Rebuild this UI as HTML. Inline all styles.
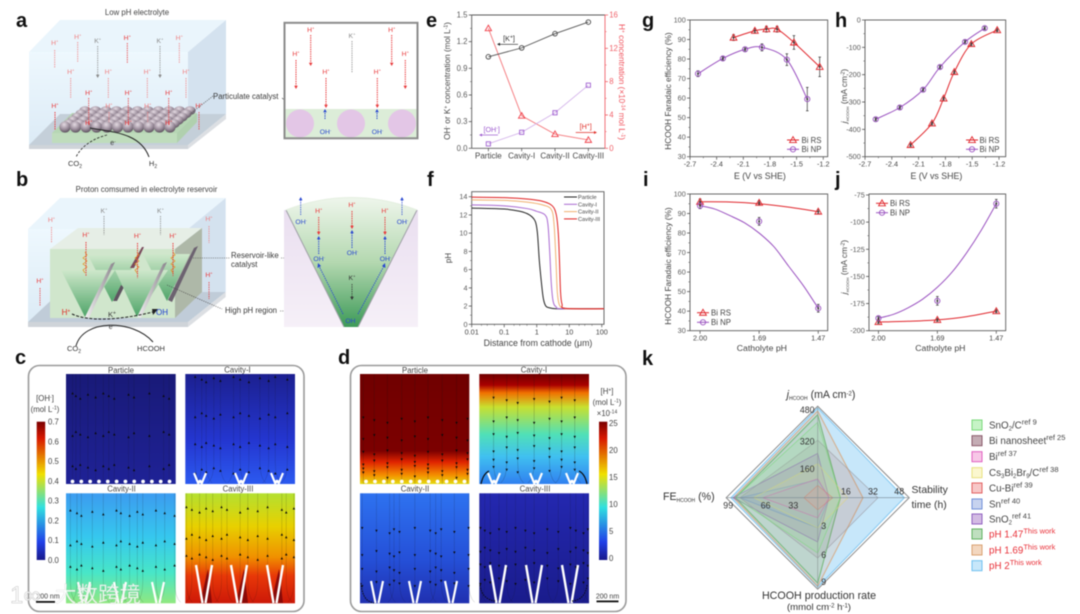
<!DOCTYPE html>
<html lang="en">
<head>
<meta charset="utf-8">
<title>Reservoir-like catalyst figure</title>
<style>
html,body{margin:0;padding:0;background:#fff;width:1080px;height:614px;overflow:hidden}
svg{display:block;filter:blur(0.4px)}
text{font-family:"Liberation Sans","Noto Sans CJK SC",sans-serif;fill:#3a3a3a}
.letter{font-weight:700;font-size:20px;fill:#111}
.cap{font-size:7.8px;fill:#444}
.map-title{font-size:7.8px;fill:#444;text-anchor:middle}
.cb{font-size:7.8px;fill:#444}
</style>
</head>
<body>
<svg id="fig" xmlns="http://www.w3.org/2000/svg" width="1080" height="614" viewBox="0 0 1080 614">
<defs>
<linearGradient id="jetC" x1="0" y1="0" x2="0" y2="1"><stop offset="0" stop-color="#7a0000"/><stop offset=".12" stop-color="#d81800"/><stop offset=".38" stop-color="#f0e000"/><stop offset=".62" stop-color="#30e0e0"/><stop offset=".87" stop-color="#2040e8"/><stop offset="1" stop-color="#18188a"/></linearGradient>
<linearGradient id="cP" x1="0" y1="0" x2="0" y2="1"><stop offset="0" stop-color="#191a78"/><stop offset="1" stop-color="#1f2296"/></linearGradient>
<linearGradient id="cI" x1="0" y1="0" x2="0" y2="1"><stop offset="0" stop-color="#1c2090"/><stop offset=".6" stop-color="#2436d0"/><stop offset="1" stop-color="#2c5af0"/></linearGradient>
<linearGradient id="cII" x1="0" y1="0" x2="0" y2="1"><stop offset="0" stop-color="#3c9cf0"/><stop offset=".4" stop-color="#36c8ee"/><stop offset=".72" stop-color="#48e6c8"/><stop offset="1" stop-color="#90e880"/></linearGradient>
<linearGradient id="cIII" x1="0" y1="0" x2="0" y2="1"><stop offset="0" stop-color="#b4e030"/><stop offset=".3" stop-color="#e8d000"/><stop offset=".58" stop-color="#f09000"/><stop offset=".75" stop-color="#e83808"/><stop offset="1" stop-color="#cc1808"/></linearGradient>
<linearGradient id="dP" x1="0" y1="0" x2="0" y2="1"><stop offset="0" stop-color="#700000"/><stop offset=".7" stop-color="#7c0000"/><stop offset=".8" stop-color="#e02400"/><stop offset=".92" stop-color="#f49000"/><stop offset="1" stop-color="#e4dc10"/></linearGradient>
<linearGradient id="dI" x1="0" y1="0" x2="0" y2="1"><stop offset="0" stop-color="#700000"/><stop offset=".1" stop-color="#a80000"/><stop offset=".17" stop-color="#f07000"/><stop offset=".3" stop-color="#c8e030"/><stop offset=".55" stop-color="#50e0b8"/><stop offset=".75" stop-color="#40c0f0"/><stop offset="1" stop-color="#3080f0"/></linearGradient>
<linearGradient id="dII" x1="0" y1="0" x2="0" y2="1"><stop offset="0" stop-color="#2e72f0"/><stop offset=".6" stop-color="#2550d8"/><stop offset="1" stop-color="#2030b0"/></linearGradient>
<linearGradient id="dIII" x1="0" y1="0" x2="0" y2="1"><stop offset="0" stop-color="#2428b0"/><stop offset="1" stop-color="#1a1c8c"/></linearGradient>
<linearGradient id="wedge" x1="0" y1="0" x2="0" y2="1"><stop offset="0" stop-color="#cfe8cb"/><stop offset="1" stop-color="#4ea468"/></linearGradient>
<linearGradient id="plate" x1="0" y1="0" x2="1" y2="0"><stop offset="0" stop-color="#f2f2f2"/><stop offset="1" stop-color="#8a838c"/></linearGradient>
<linearGradient id="cone" x1="0" y1="0" x2="0" y2="1"><stop offset="0" stop-color="#eff6ec"/><stop offset=".5" stop-color="#b4d8b0"/><stop offset="1" stop-color="#3d9a58"/></linearGradient>
<linearGradient id="boxFront" x1="0" y1="0" x2="0" y2="1"><stop offset="0" stop-color="#eef8fe"/><stop offset="1" stop-color="#dcebf6"/></linearGradient>
<linearGradient id="sidePink" x1="0" y1="0" x2="0" y2="1"><stop offset="0" stop-color="#eadff0"/><stop offset="1" stop-color="#f6f0f8"/></linearGradient>
<radialGradient id="ball" cx=".42" cy=".28" r=".8"><stop offset="0" stop-color="#e4dae2"/><stop offset=".55" stop-color="#9a8c9a"/><stop offset="1" stop-color="#4e4450"/></radialGradient>
</defs>

<!-- panel letters -->
<text class="letter" x="16" y="27">a</text>
<text class="letter" x="16" y="186">b</text>
<text class="letter" x="15" y="364">c</text>
<text class="letter" x="338" y="364">d</text>
<text class="letter" x="426" y="27">e</text>
<text class="letter" x="427" y="186">f</text>
<text class="letter" x="642" y="27">g</text>
<text class="letter" x="835" y="27">h</text>
<text class="letter" x="643" y="186">i</text>
<text class="letter" x="835" y="186">j</text>
<text class="letter" x="642" y="365">k</text>

<!-- panel a box -->
<g id="schemA">
<text class="cap" x="137" y="15" text-anchor="middle">Low pH electrolyte</text>
<polygon points="29,52 60,20 226,20 188,52" fill="#eaf5fc"/>
<rect x="29" y="52" width="159" height="93" fill="url(#boxFront)"/>
<polygon points="188,52 226,20 226,114 188,145" fill="#d4e2ef"/>
<polygon points="29,145 60,114 226,114 188,145" fill="#c4cfd9"/>
<polygon points="29,145 188,145 188,149 29,149" fill="#cfd4d9"/>
<polygon points="188,145 226,114 226,119 188,149" fill="#dcdfe3"/>
<polygon points="52,133 72,113 197,113 177,133" fill="#b6d6b4"/>
<rect x="52" y="133" width="125" height="10" fill="#bfdcbc"/>
<polygon points="177,133 197,113 197,122 177,143" fill="#b0d0ae"/>
<g id="spheres"></g>
<path d="M90,128 C110,132 140,132 149,157" fill="none" stroke="#222" stroke-width="1"/>
<path d="M107,135 C95,138 82,145 76,157" fill="none" stroke="#222" stroke-width=".8" stroke-dasharray="2.5 1.5"/>
<text x="113" y="145" font-size="7" text-anchor="middle">e<tspan dy="-2" font-size="4.5">-</tspan></text>
<text x="75" y="166" font-size="7.5" text-anchor="middle">CO<tspan dy="2" font-size="5">2</tspan></text>
<text x="153" y="166" font-size="7.5" text-anchor="middle">H<tspan dy="2" font-size="5">2</tspan></text>
<text x="213" y="99" font-size="7.8" fill="#444">Particulate catalyst</text>
<line x1="213" y1="96" x2="190" y2="114" stroke="#444" stroke-width=".6" stroke-dasharray="1.2 1"/>
<line x1="282" y1="98" x2="297" y2="110" stroke="#444" stroke-width=".6"/>
</g>

<!-- panel a zoom -->
<g>
<rect x="285" y="23" width="132" height="115" fill="#fff"/>
<rect x="285" y="109" width="132" height="29" fill="#dcedd8"/>
<circle cx="300" cy="123.5" r="14" fill="#e3c6e6"/>
<circle cx="351" cy="123.5" r="14" fill="#e3c6e6"/>
<circle cx="402" cy="123.5" r="14" fill="#e3c6e6"/>
<rect x="284.5" y="22.8" width="133" height="115.5" fill="none" stroke="#8b8b8b" stroke-width="2"/>
</g>

<!-- panel b box -->
<g id="schemB">
<text class="cap" x="146.500" y="192" text-anchor="middle">Proton comsumed in electrolyte reservoir</text>
<polygon points="28,229 60,198 225.700,198 188,229" fill="#eaf5fc"/>
<rect x="28" y="229" width="160" height="93" fill="url(#boxFront)"/>
<polygon points="188,229 225.700,198 225.700,292 188,322" fill="#d4e2ef"/>
<polygon points="28,322 60,292 225.700,292 188,322" fill="#c0ccd8"/>
<polygon points="28,322 188,322 188,327 28,327" fill="#cfd4d9"/>
<polygon points="188,322 225.700,292 225.700,297 188,327" fill="#dcdfe3"/>
<polygon points="50,249 78,228 202,228 175,249" fill="#e6eee6"/>
<rect x="50" y="249" width="125" height="69" fill="#d0e6cc"/>
<polygon points="175,249 202,228 202,292 175,318" fill="#aeb8a8"/>
<polygon points="88,255 140,255 112,302" fill="url(#wedge)"/>
<polygon points="143,254 190,254 167,301" fill="url(#wedge)"/>
<polygon points="113,301 121,285 124,287 117,301" fill="#5e5460"/>
<polygon points="130,268 142,247 144,247 134,268" fill="#7a4a5c"/>
<polygon points="61,270 115,270 85,317" fill="url(#wedge)"/>
<polygon points="115,270 168,270 137,317" fill="url(#wedge)"/>
<polygon points="85,317 111,264 115,262 89,318" fill="url(#plate)"/>
<polygon points="137,317 163,264 167,262 141,318" fill="url(#plate)"/>
<polygon points="168,300 194,248 198,246 172,302" fill="#6c6270"/>
<path d="M76,346 C83,319 133,319 153,342" fill="none" stroke="#222" stroke-width="1"/>
<path d="M72,314 C90,322 120,320 153,312" fill="none" stroke="#222" stroke-width="1" stroke-dasharray="3 1.500"/>
<polygon points="158,309 152,309 153,315" fill="#222"/>
<text x="66" y="315" font-size="8" text-anchor="middle" style="fill:#e0302a">H<tspan dy="-2.500" font-size="5">+</tspan></text>
<text x="162" y="315" font-size="8" style="fill:#2040d0" text-anchor="middle">OH</text>
<text x="112" y="317" font-size="7.500" text-anchor="middle">K<tspan dy="-2.500" font-size="5">+</tspan></text>
<text x="111.500" y="329" font-size="7" text-anchor="middle">e<tspan dy="-2" font-size="4.500">-</tspan></text>
<text x="74" y="351" font-size="7.500" text-anchor="middle">CO<tspan dy="2" font-size="5">2</tspan></text>
<text x="151" y="351" font-size="7.500" text-anchor="middle">HCOOH</text>
<path d="M85,252 l2,3 l-4,3 l4,3 l-4,3 l4,3 l-4,3 l2,3" fill="none" stroke="#e09020" stroke-width=".7"/>
<path d="M137,252 l2,3 l-4,3 l4,3 l-4,3 l4,3 l-4,3 l2,3" fill="none" stroke="#e09020" stroke-width=".7"/>
<path d="M173,252 l2,3 l-4,3 l4,3 l-4,3 l4,3 l-4,3 l2,3" fill="none" stroke="#e09020" stroke-width=".7"/>
<line x1="193" y1="258" x2="230" y2="258" stroke="#444" stroke-width=".6" stroke-dasharray="1.200 1"/>
<line x1="281" y1="258" x2="310" y2="258" stroke="#444" stroke-width=".6" stroke-dasharray="1.200 1"/>
<text x="231" y="258" font-size="7.800" fill="#444">Reservoir-like</text>
<text x="231" y="267" font-size="7.800" fill="#444">catalyst</text>
<line x1="167" y1="285" x2="222" y2="309" stroke="#444" stroke-width=".6" stroke-dasharray="1.200 1"/>
<text x="225" y="313" font-size="7.800" fill="#444">High pH region</text>
<line x1="280" y1="311" x2="343" y2="311" stroke="#444" stroke-width=".6" stroke-dasharray="1.200 1"/>
</g>

<!-- panel b zoom -->
<g>
<rect x="284" y="210" width="134" height="117" fill="url(#sidePink)"/>
<path d="M286,210 Q351,185 417,210 L358,327 L344,327 Z" fill="url(#cone)"/>
<line x1="286" y1="210" x2="344" y2="327" stroke="#a0a0a8" stroke-width="1"/>
<line x1="417" y1="210" x2="358" y2="327" stroke="#a0a0a8" stroke-width="1"/>
<path d="M286,210 Q351,185 417,210" fill="none" stroke="#e4efe0" stroke-width="1"/>
</g>
<g id="ionArrows"></g>

<!-- panel c -->
<g>
<rect x="28.500" y="365.500" width="275.500" height="246" rx="11" fill="#fff" stroke="#9a9a9a" stroke-width="1.600"/>
<rect x="66" y="374" width="109.700" height="110" fill="url(#cP)"/>
<rect x="185.300" y="374" width="109.700" height="110" fill="url(#cI)"/>
<rect x="66" y="493.300" width="109.700" height="110" fill="url(#cII)"/>
<rect x="185.300" y="493.300" width="109.700" height="110" fill="url(#cIII)"/>
<polygon points="200,603 208,569 212,603" fill="#8a0a08"/>
<polygon points="236,603 244,569 248,603" fill="#8a0a08"/>
<polygon points="271,603 279,569 283,603" fill="#8a0a08"/>
<text class="map-title" x="121" y="373">Particle</text>
<text class="map-title" x="237.500" y="372.500">Cavity-I</text>
<text class="map-title" x="121.500" y="491.500">Cavity-II</text>
<text class="map-title" x="238" y="491.500">Cavity-III</text>
<text class="cb" x="45" y="401" text-anchor="middle">[OH<tspan dy="-2.500" font-size="5">-</tspan><tspan dy="2.500">]</tspan></text>
<text class="cb" x="45" y="412" text-anchor="middle">(mol L<tspan dy="-2.500" font-size="5">-1</tspan><tspan dy="2.500">)</tspan></text>
<rect x="36.700" y="421.700" width="8.500" height="138.300" fill="url(#jetC)"/>
<g id="cbC"></g>
<rect x="36" y="601" width="19" height="1.800" fill="#111"/>
<text x="48" y="598.500" font-size="7" text-anchor="middle">200 nm</text>
</g>

<!-- panel d -->
<g>
<rect x="350.500" y="365.500" width="275.500" height="246" rx="11" fill="#fff" stroke="#9a9a9a" stroke-width="1.600"/>
<rect x="360" y="374" width="109.300" height="110" fill="url(#dP)"/>
<rect x="479.300" y="374" width="109.700" height="110" fill="url(#dI)"/>
<rect x="360" y="493.300" width="109.300" height="110" fill="url(#dII)"/>
<rect x="479.300" y="493.300" width="109.700" height="110" fill="url(#dIII)"/>
<text class="map-title" x="415" y="373">Particle</text>
<text class="map-title" x="534" y="372.500">Cavity-I</text>
<text class="map-title" x="415" y="491.500">Cavity-II</text>
<text class="map-title" x="535" y="491.500">Cavity-III</text>
<text class="cb" x="607" y="394" text-anchor="middle">[H<tspan dy="-2.500" font-size="5">+</tspan><tspan dy="2.500">]</tspan></text>
<text class="cb" x="607" y="405" text-anchor="middle">(mol L<tspan dy="-2.500" font-size="5">-1</tspan><tspan dy="2.500">)</tspan></text>
<text class="cb" x="607" y="416" text-anchor="middle">×10<tspan dy="-2.500" font-size="5">-14</tspan></text>
<rect x="599" y="421.700" width="8.300" height="138.300" fill="url(#jetC)"/>
<g id="cbD"></g>
<rect x="596.500" y="600.500" width="22" height="1.800" fill="#111"/>
<text x="607.500" y="598.500" font-size="7" text-anchor="middle">200 nm</text>
</g>
<g id="maps"></g>
<g id="charts"></g>
<g id="radar"></g>
<text x="10" y="603" font-size="24" style="fill:#ffffff;fill-opacity:.85;stroke:#a8a8a8;stroke-width:.5;stroke-opacity:.7">1∞</text>
<text x="55" y="602" font-size="21.500" style="fill:#ffffff;fill-opacity:.85;stroke:#a8a8a8;stroke-width:.3;stroke-opacity:.5;font-family:'Liberation Sans','Noto Sans CJK SC',sans-serif">大数跨境</text>
</svg>

<script>
/* ---- chart data ---- */
const eCategories = ['Particle','Cavity-I','Cavity-II','Cavity-III'];
const eK = [1.03,1.13,1.29,1.42];
const eOH = [0.05,0.18,0.40,0.71];
const eH = [14.4,3.9,1.7,1.0];
const eLeftTicks = [0,0.3,0.6,0.9,1.2,1.5];
const eRightTicks = [0,4,8,12,16];

const fXTicks = [0.01,0.1,1,10,100];
const fYTicks = [0,2,4,6,8,10,12,14];
const fParticleX = [0.01,0.1,0.3,0.6,0.9,1.05,1.2,1.4,1.6,1.9,2.5,4,10,130];
const fParticleY = [12.75,12.65,12.4,12,11.3,10,7,4.5,2.8,2,1.8,1.7,1.7,1.7];
const fCavity1X = [0.01,0.1,0.5,1,1.8,2.2,2.5,2.8,3.2,4,6,130];
const fCavity1Y = [13.1,13,12.7,12.4,12,11,8,4.5,2.5,1.9,1.7,1.7];
const fCavity2X = [0.01,0.1,0.5,1.5,2.8,3.4,3.9,4.3,5,7,10,130];
const fCavity2Y = [13.65,13.6,13.4,13.1,12.6,11,7,3.5,2.1,1.75,1.7,1.7];
const fCavity3X = [0.01,0.1,0.5,1.5,3,4,4.6,5,5.4,6,8,130];
const fCavity3Y = [13.95,13.9,13.75,13.5,13,12,10,7,3.5,2.2,1.75,1.7];
const fLegend = ['Particle','Cavity-I','Cavity-II','Cavity-III'];

const gRsE = [-2.21,-1.97,-1.84,-1.72,-1.53,-1.24];
const gRsFE = [91,94.5,95.3,95.3,88.5,76];
const gRsErr = [1.5,1,1.5,1.5,3.5,5];
const gNpE = [-2.61,-2.33,-2.08,-1.89,-1.61,-1.38];
const gNpFE = [72.5,80.3,85,86,79.7,59.5];
const gNpErr = [1.5,0.8,0.8,1.8,3,6];
const gXTicks = [-2.7,-2.4,-2.1,-1.8,-1.5,-1.2];
const gYTicks = [30,40,50,60,70,80,90,100];

const hRsE = [-2.19,-1.95,-1.82,-1.7,-1.51,-1.22];
const hRsJ = [-457,-378,-287,-190,-88,-37];
const hNpE = [-2.58,-2.31,-2.05,-1.86,-1.58,-1.36];
const hNpJ = [-363,-320,-255,-172,-80,-30];
const hYTicks = [0,-100,-200,-300,-400,-500];

const pHCategories = ['2.00','1.69','1.47'];
const iRs = [96,95.5,91];
const iRsErr = [1.5,1,1];
const iNp = [94,86,41.5];
const iNpErr = [1.5,2,2];
const iRsFitAt = [0,0.5,1,1.5,2];
const iRsFit = [96,95.9,95,93.3,91];
const iNpFitAt = [0,0.25,0.5,0.75,1,1.25,1.5,1.75,2];
const iNpFit = [94,92.3,89,85.3,80,73,63,53,41.5];
const iYTicks = [30,40,50,60,70,80,90,100];

const jRs = [-192,-190,-182];
const jNp = [-188.5,-172.5,-83];
const jNpErr = [1.5,4,4];
const jRsFitAt = [0,0.5,1,1.5,2];
const jRsFit = [-192,-191.3,-190,-187,-182];
const jNpFitAt = [0,0.25,0.5,0.75,1,1.25,1.5,1.75,2];
const jNpFit = [-188.5,-185,-179,-171,-160,-146,-128,-107,-83];
const jYTicks = [-75,-100,-125,-150,-175,-200];

const radarNames = ['SnO2/C','Bi nanosheet','Bi','Cs3Bi2Br9/C','Cu-Bi','Sn','SnO2','pH 1.47','pH 1.69','pH 2'];
const radarJ = [400,305,100,180,65,95,235,440,460,476];
const radarStability = [12,32,6,16,8,6,6,12,24,46];
const radarRate = [5.5,6,2,3,1.2,3,4.4,8.5,8.8,8.9];
const radarFE = [90,85,60,70,15,85,93,90,92,95];
const radarJTicks = [160,320,480];
const radarStabilityTicks = [16,32,48];
const radarRateTicks = [3,6,9];
const radarFETicks = [33,66,99];

const ohColorbarTicks = ['0.0','0.1','0.2','0.3','0.4','0.5','0.6','0.7'];
const hColorbarTicks = ['0','5','10','15','20','25'];

/* ---- helpers ---- */
const NS = 'http://www.w3.org/2000/svg';
function el(parent, tag, attrs, name) {
  const node = document.createElementNS(NS, tag);
  for (const k in attrs) node.setAttribute(k, attrs[k]);
  
  
  parent.appendChild(node);
  return node;
}
function txt(parent, x, y, markup, size, anchor, color, name, rot) {
  const a = {x:x, y:y, 'font-size':size, 'text-anchor':anchor||'start', style:'fill:'+(color||'#3a3a3a')};
  if (rot) a.transform = 'rotate('+rot+' '+x+' '+y+')';
  const t = el(parent, 'text', a, name);
  t.innerHTML = markup;
  return t;
}
const sup = (s, f) => '<tspan dy="-2.5" font-size="'+(f||5)+'">'+s+'</tspan><tspan dy="2.5">\u200b</tspan>';
const sub = (s, f) => '<tspan dy="1.8" font-size="'+(f||5)+'">'+s+'</tspan><tspan dy="-1.8">\u200b</tspan>';
const lin = (d0,d1,r0,r1) => v => r0 + (v-d0)/(d1-d0)*(r1-r0);
const logScale = (d0,d1,r0,r1) => v => r0 + (Math.log10(v)-Math.log10(d0))/(Math.log10(d1)-Math.log10(d0))*(r1-r0);
function smooth(pts) {
  let d = 'M'+pts[0][0].toFixed(2)+','+pts[0][1].toFixed(2);
  for (let i=0;i<pts.length-1;i++){
    const p0=pts[Math.max(0,i-1)],p1=pts[i],p2=pts[i+1],p3=pts[Math.min(pts.length-1,i+2)];
    const c1=[p1[0]+(p2[0]-p0[0])/6,p1[1]+(p2[1]-p0[1])/6], c2=[p2[0]-(p3[0]-p1[0])/6,p2[1]-(p3[1]-p1[1])/6];
    d+=' C'+c1[0].toFixed(2)+','+c1[1].toFixed(2)+' '+c2[0].toFixed(2)+','+c2[1].toFixed(2)+' '+p2[0].toFixed(2)+','+p2[1].toFixed(2);
  }
  return d;
}
function poly(pts){return pts.map(p=>p[0].toFixed(2)+','+p[1].toFixed(2)).join(' ');}

const AX = '#5a5a5a';
function frame(g, x0, y0, x1, y1, name, color) {
  el(g,'rect',{x:x0,y:y0,width:x1-x0,height:y1-y0,fill:'none',stroke:color||AX,'stroke-width':.9},name);
}
function yAxis(g, scale, x, ticks, minorStep, dir, color, name, lo, hi, fmt, size) {
  ticks.forEach(v=>{
    const y=scale(v);
    el(g,'line',{x1:x,x2:x-dir*3,y1:y,y2:y,stroke:color||AX,'stroke-width':.8},name+'-tick');
    txt(g,x-dir*4.2,y+2.5,fmt?fmt(v):String(v),size||7.3,dir>0?'end':'start',color||'#444',name+'-tick-label');
  });
  if(minorStep){for(let v=lo+minorStep;v<hi;v+=minorStep){
    const y=scale(v);
    el(g,'line',{x1:x,x2:x-dir*1.6,y1:y,y2:y,stroke:color||AX,'stroke-width':.6},name+'-minor-tick');
  }}
}
function xAxis(g, scale, y, ticks, labels, name, minors, size) {
  ticks.forEach((v,i)=>{
    const x=scale(v);
    el(g,'line',{x1:x,x2:x,y1:y,y2:y+3,stroke:AX,'stroke-width':.8},name+'-tick');
    txt(g,x,y+10,labels[i],size||7.3,'middle','#444',name+'-tick-label');
  });
  (minors||[]).forEach(v=>{
    const x=scale(v);
    el(g,'line',{x1:x,x2:x,y1:y,y2:y+1.6,stroke:AX,'stroke-width':.6},name+'-minor-tick');
  });
}
function triMark(g,x,y,color,name,s){
  s=s||3.4;
  el(g,'polygon',{points:x+','+(y-s)+' '+(x+s)+','+(y+s*.75)+' '+(x-s)+','+(y+s*.75),fill:'none',stroke:color,'stroke-width':.9},name);
}
function cirMark(g,x,y,color,name,r){
  el(g,'circle',{cx:x,cy:y,r:r||2.6,fill:'none',stroke:color,'stroke-width':.9},name);
}
function errBar(g,x,yHi,yLo,name){
  el(g,'line',{x1:x,x2:x,y1:yHi,y2:yLo,stroke:'#333','stroke-width':.7},name);
  el(g,'line',{x1:x-1.3,x2:x+1.3,y1:yHi,y2:yHi,stroke:'#333','stroke-width':.7},name+'-cap');
  el(g,'line',{x1:x-1.3,x2:x+1.3,y1:yLo,y2:yLo,stroke:'#333','stroke-width':.7},name+'-cap');
  el(g,'circle',{cx:x,cy:(yHi+yLo)/2,r:1,fill:'#333'},name+'-center');
}
function legendTwo(g,xLine,yA,yB,xText){
  const RS='#e0262c',NP='#9a52c0';
  el(g,'line',{x1:xLine,x2:xLine+12,y1:yA,y2:yA,stroke:RS,'stroke-width':1},'legend-line-bi-rs');
  triMark(g,xLine+6,yA,RS,'legend-marker-bi-rs');
  txt(g,xText,yA+2.8,'Bi RS',7.8,'start','#444','legend-entry-bi-rs');
  el(g,'line',{x1:xLine,x2:xLine+12,y1:yB,y2:yB,stroke:NP,'stroke-width':1},'legend-line-bi-np');
  cirMark(g,xLine+6,yB,NP,'legend-marker-bi-np');
  txt(g,xText,yB+2.8,'Bi NP',7.8,'start','#444','legend-entry-bi-np');
}
const RS='#e0262c',NP='#9a52c0';
const charts=document.getElementById('charts');

/* ---- panel e ---- */
(function(){
  const g=el(charts,'g',{},'panel-e-chart');
  const X0=471.7,X1=605,Y0=15,Y1=148.3;
  const x=lin(-0.5,3.5,X0,X1), yL=lin(0,1.5,Y1,Y0), yR=lin(0,16,Y1,Y0);
  el(g,'line',{x1:X0,x2:X1,y1:Y0,y2:Y0,stroke:AX,'stroke-width':.9},'e-top-border');
  el(g,'line',{x1:X0,x2:X1,y1:Y1,y2:Y1,stroke:AX,'stroke-width':.9},'e-bottom-axis');
  el(g,'line',{x1:X0,x2:X0,y1:Y0,y2:Y1,stroke:AX,'stroke-width':.9},'e-left-axis');
  el(g,'line',{x1:X1,x2:X1,y1:Y0,y2:Y1,stroke:'#f0626a','stroke-width':.9},'e-right-axis');
  yAxis(g,yL,X0,eLeftTicks,0.15,1,AX,'e-left',0,1.5,v=>v.toFixed(1),7.8);
  yAxis(g,yR,X1,eRightTicks,2,-1,'#f0626a','e-right',0,16,null,7.8);
  xAxis(g,x,Y1,[0,1,2,3],eCategories,'e-x',null,8);
  const pts=a=>a.map((v,i)=>[x(i),v]);
  const hp=pts(eH.map(yR)), op=pts(eOH.map(yL)), kp=pts(eK.map(yL));
  el(g,'polyline',{points:poly(hp),fill:'none',stroke:'#f4787c','stroke-width':.9},'series-h-line');
  el(g,'polyline',{points:poly(op),fill:'none',stroke:'#d4b4ea','stroke-width':.9},'series-oh-line');
  el(g,'polyline',{points:poly(kp),fill:'none',stroke:'#555','stroke-width':.9},'series-k-line');
  hp.forEach(p=>triMark(g,p[0],p[1],'#f0404a','series-h-point',3.2));
  op.forEach(p=>el(g,'rect',{x:p[0]-2.1,y:p[1]-2.1,width:4.2,height:4.2,fill:'none',stroke:'#a060d0','stroke-width':.9},'series-oh-point'));
  kp.forEach(p=>cirMark(g,p[0],p[1],'#444','series-k-point',2.3));
  txt(g,509,41,'[K'+sup('+')+']',7.2,'middle','#333','k-series-label');
  el(g,'line',{x1:518,x2:499,y1:44.3,y2:44.3,stroke:'#222','stroke-width':.7},'k-direction-arrow');
  el(g,'polygon',{points:'497,44.3 500,42.800 500,45.800',fill:'#222'},'k-arrow-head');
  txt(g,491.7,132,'[OH'+sup('-')+']',7.2,'middle','#a060d0','oh-series-label');
  el(g,'line',{x1:498,x2:481,y1:135,y2:135,stroke:'#a060d0','stroke-width':.7},'oh-direction-arrow');
  el(g,'polygon',{points:'479,135 482,133.500 482,136.500',fill:'#a060d0'},'oh-arrow-head');
  txt(g,585.7,129,'[H'+sup('+')+']',7.2,'middle','#e0302a','h-series-label');
  el(g,'line',{x1:575.7,x2:595,y1:132.5,y2:132.5,stroke:'#e0302a','stroke-width':.7},'h-direction-arrow');
  el(g,'polygon',{points:'597,132.500 594,131 594,134',fill:'#e0302a'},'h-arrow-head');
  txt(g,450,81,'OH'+sup('-')+' or K'+sup('+')+' concentration (mol L'+sup('-1')+')',8.2,'middle','#444','e-left-axis-title',-90);
  txt(g,619,82,'H'+sup('+')+' concentration (×10'+sup('-14')+' mol L'+sup('-1')+')',8.2,'middle','#f0505a','e-right-axis-title',90);
})();

/* ---- panel f ---- */
(function(){
  const g=el(charts,'g',{},'panel-f-chart');
  const X0=471.7,X1=604,Y0=191.7,Y1=324.3;
  const x=logScale(0.01,117,X0,X1), y=lin(0,14.55,Y1,Y0);
  frame(g,X0,Y0,X1,Y1,'f-plot-frame');
  yAxis(g,y,X0,fYTicks,1,1,AX,'f-y',0,14);
  xAxis(g,x,Y1,fXTicks,['0.01','0.1','1','10','100'],'f-x');
  [0.02,0.03,0.05,0.2,0.3,0.5,2,3,5,20,30,50].forEach(v=>{
    el(g,'line',{x1:x(v),x2:x(v),y1:Y1,y2:Y1+1.6,stroke:AX,'stroke-width':.5},'f-x-minor-tick');
  });
  const series=[[fParticleX,fParticleY,'#222','particle'],[fCavity1X,fCavity1Y,'#a868d0','cavity-1'],[fCavity2X,fCavity2Y,'#f0b070','cavity-2'],[fCavity3X,fCavity3Y,'#e02020','cavity-3']];
  series.forEach(s=>{
    const pts=s[0].map((v,i)=>[x(Math.min(v,117)),y(s[1][i])]);
    el(g,'path',{d:smooth(pts),fill:'none',stroke:s[2],'stroke-width':1},'f-line-'+s[3]);
  });
  fLegend.forEach((n,i)=>{
    const ly=197+i*7.3;
    el(g,'line',{x1:564,x2:577,y1:ly,y2:ly,stroke:series[i][2],'stroke-width':1},'f-legend-line-'+series[i][3]);
    txt(g,578,ly+2,n,5.6,'start','#444','f-legend-entry-'+series[i][3]);
  });
  txt(g,451,258,'pH',8,'middle','#444','f-y-axis-title',-90);
  txt(g,538,346,'Distance from cathode (μm)',8.8,'middle','#444','f-x-axis-title');
})();

function chartEV(name,X0,X1,d0,d1,yScale,yTicks,minor,lo,hi,rsE,rsV,rsErr,npE,npV,npErr,yTitle,titleX,titleY,lg){
  const g=el(charts,'g',{},name);
  const Y0=20,Y1=156.7;
  const x=lin(d0,d1,X0,X1);
  frame(g,X0,Y0,X1,Y1,name+'-frame');
  yAxis(g,yScale,X0,yTicks,minor,1,AX,name+'-y',lo,hi);
  xAxis(g,x,Y1,gXTicks,gXTicks.map(v=>v.toFixed(1)),name+'-x',[-2.55,-2.25,-1.95,-1.65,-1.35]);
  const rp=rsE.map((e,i)=>[x(e),yScale(rsV[i])]), np=npE.map((e,i)=>[x(e),yScale(npV[i])]);
  el(g,'path',{d:smooth(rp),fill:'none',stroke:RS,'stroke-width':1},name+'-line-bi-rs');
  el(g,'path',{d:smooth(np),fill:'none',stroke:NP,'stroke-width':1},name+'-line-bi-np');
  rp.forEach((p,i)=>{
    const h=rsErr?Math.abs(yScale(rsV[i]+rsErr[i])-yScale(rsV[i])):1.5;
    errBar(g,p[0],p[1]-h,p[1]+h,name+'-error-bi-rs');triMark(g,p[0],p[1],RS,name+'-point-bi-rs');});
  np.forEach((p,i)=>{
    const h=npErr?Math.abs(yScale(npV[i]+npErr[i])-yScale(npV[i])):1.5;
    errBar(g,p[0],p[1]-h,p[1]+h,name+'-error-bi-np');cirMark(g,p[0],p[1],NP,name+'-point-bi-np');});
  legendTwo(g,lg[0],lg[1],lg[2],lg[3]);
  txt(g,(X0+X1)/2+1,179,'E (V vs SHE)',8.8,'middle','#444',name+'-x-axis-title');
  txt(g,titleX,titleY,yTitle,8.3,'middle','#444',name+'-y-axis-title',-90);
}
const jTitle='<tspan font-style="italic">j</tspan>'+sub('HCOOH',4)+' (mA cm'+sup('-2')+')';
chartEV('panel-g-chart',690,827.7,-2.7,-1.15,lin(30,100,156.7,20),gYTicks,5,30,100,gRsE,gRsFE,gRsErr,gNpE,gNpFE,gNpErr,'HCOOH Faradaic efficiency (%)',671,91,[787,140,149.3,801.5]);
chartEV('panel-h-chart',865,1005.7,-2.7,-1.125,lin(-500,0,156.7,20),hYTicks,50,-500,0,hRsE,hRsJ,null,hNpE,hNpJ,null,jTitle,847,96,[966,140,149.3,979.5]);

function chartPH(name,X0,X1,d0,d1,yScale,yTicks,minor,lo,hi,rs,rsE,np,npE,rfa,rf,nfa,nf,yTitle,titleX,titleY,lg){
  const g=el(charts,'g',{},name);
  const Y0=194,Y1=330.7;
  const x=lin(d0,d1,X0,X1);
  frame(g,X0,Y0,X1,Y1,name+'-frame');
  yAxis(g,yScale,X0,yTicks,minor,1,AX,name+'-y',lo,hi);
  xAxis(g,x,Y1,[0,1,2],pHCategories,name+'-x');
  el(g,'path',{d:smooth(rfa.map((a,i)=>[x(a),yScale(rf[i])])),fill:'none',stroke:RS,'stroke-width':1},name+'-fit-bi-rs');
  el(g,'path',{d:smooth(nfa.map((a,i)=>[x(a),yScale(nf[i])])),fill:'none',stroke:NP,'stroke-width':1},name+'-fit-bi-np');
  rs.forEach((v,i)=>{const h=rsE?Math.abs(yScale(v+rsE[i])-yScale(v)):1.5;
    errBar(g,x(i),yScale(v)-h,yScale(v)+h,name+'-error-bi-rs');triMark(g,x(i),yScale(v),RS,name+'-point-bi-rs');});
  np.forEach((v,i)=>{const h=Math.abs(yScale(v+npE[i])-yScale(v));
    errBar(g,x(i),yScale(v)-h,yScale(v)+h,name+'-error-bi-np');cirMark(g,x(i),yScale(v),NP,name+'-point-bi-np');});
  legendTwo(g,lg[0],lg[1],lg[2],lg[3]);
  txt(g,(X0+X1)/2+3,351,'Catholyte pH',8.7,'middle','#444',name+'-x-axis-title');
  txt(g,titleX,titleY,yTitle,8.3,'middle','#444',name+'-y-axis-title',-90);
}
chartPH('panel-i-chart',690,827.7,-0.17,2.16,lin(30,100,330.7,194),iYTicks,5,30,100,iRs,iRsErr,iNp,iNpErr,iRsFitAt,iRsFit,iNpFitAt,iNpFit,'HCOOH Faradaic efficiency (%)',671,266,[697,312.7,322.3,711]);
chartPH('panel-j-chart',869,1005.7,-0.16,2.16,lin(-200,-75,330.7,195),jYTicks,12.5,-200,-75,jRs,null,jNp,jNpErr,jRsFitAt,jRsFit,jNpFitAt,jNpFit,jTitle,847,267,[876,203.3,212.7,890]);

/* ---- radar ---- */
(function(){
  const g=document.getElementById('radar');
  const cx=817.7,cy=497.7,R=90.5;
  const up=lin(0,480,0,R), right=lin(0,48,0,R), down=lin(0,9,0,R), left=lin(0,99,0,R);
  const colors=[['#8de88d','#7ad87a'],['#8a5a6a','#8a5a6a'],['#f090d0','#e060c0'],['#f8f0a0','#e8e080'],['#f09090','#e06060'],['#90a8e0','#7090d8'],['#a878c8','#9060c0'],['#80c080','#60b060'],['#e8b080','#d8a070'],['#8fd0f5','#70c0f0']];
  const alpha=[.18,.1,.12,.16,.3,.3,.22,.2,.2,.5];
  el(g,'polygon',{points:cx+','+(cy-R-1)+' '+(cx+R+1)+','+cy+' '+cx+','+(cy+R+1)+' '+(cx-R-1)+','+cy,fill:'#fff',stroke:'#8a8a8a','stroke-width':1},'radar-outer-frame');
  [9,8,7,6,5,4,3,2,1,0].forEach(i=>{
    const pts=[[cx,cy-up(radarJ[i])],[cx+right(radarStability[i]),cy],[cx,cy+down(radarRate[i])],[cx-left(radarFE[i]),cy]];
    el(g,'polygon',{points:poly(pts),fill:colors[i][0],'fill-opacity':alpha[i],stroke:i===1?'#9a9aa0':colors[i][1],'stroke-width':i>=7?1.1:.7,'stroke-opacity':.75},'radar-series-'+radarNames[i].toLowerCase().replace(/[^a-z0-9]+/g,'-'));
  });
  el(g,'line',{x1:cx-R,x2:cx+R,y1:cy,y2:cy,stroke:'#7a8a96','stroke-width':.7},'radar-horizontal-axis');
  el(g,'line',{x1:cx,x2:cx,y1:cy-R,y2:cy+R,stroke:'#8a9a96','stroke-width':.6},'radar-vertical-axis');
  radarJTicks.forEach(v=>txt(g,cx-10.5,cy-up(v)+(v===480?6:v===320?7:4.5),String(v),8.8,'middle','#333','radar-j-tick'));
  radarStabilityTicks.forEach(v=>txt(g,cx+right(v)+(v===16?-2:v===32?-5:-9),cy-3,String(v),8.8,'middle','#333','radar-stability-tick'));
  radarRateTicks.forEach(v=>txt(g,cx+6,cy+down(v)+(v===9?-3:v===6?0:1),String(v),8.8,'middle','#333','radar-rate-tick'));
  radarFETicks.forEach(v=>txt(g,cx-left(v)+(v===99?1:v===66?8.3:5.8),cy+11,String(v),8.8,'middle','#333','radar-fe-tick'));
  txt(g,821,398,'<tspan font-style="italic">j</tspan>'+sub('HCOOH',5)+' (mA cm'+sup('-2',6)+')',10.6,'middle','#333','radar-j-title');
  txt(g,663,500,'FE'+sub('HCOOH',5)+' (%)',10.6,'start','#333','radar-fe-title');
  txt(g,911.5,493,'Stability',10.4,'start','#333','radar-stability-title-1');
  txt(g,911.5,508,'time (h)',10.4,'start','#333','radar-stability-title-2');
  txt(g,819,599,'HCOOH production rate',10.7,'middle','#333','radar-rate-title-1');
  txt(g,819,610,'(mmol cm'+sup('-2',6)+' h'+sup('-1',6)+')',9.6,'middle','#333','radar-rate-title-2');

  const sup2=(s,c)=>'<tspan dy="-4" font-size="7.5"'+(c?' style="fill:'+c+'"':'')+'>'+s+'</tspan><tspan dy="4">\u200b</tspan>';
  const sub2=s=>'<tspan dy="2" font-size="6">'+s+'</tspan><tspan dy="-2">\u200b</tspan>';
  const rows=[
    'SnO'+sub2('2')+'/C'+sup2('ref 9'),
    'Bi nanosheet'+sup2('ref 25'),
    'Bi'+sup2('ref 37'),
    'Cs'+sub2('3')+'Bi'+sub2('2')+'Br'+sub2('9')+'/C'+sup2('ref 38'),
    'Cu-Bi'+sup2('ref 39'),
    'Sn'+sup2('ref 40'),
    'SnO'+sub2('2')+sup2('ref 41'),
    'pH 1.47'+sup2('This work'),
    'pH 1.69'+sup2('This work'),
    'pH 2'+sup2('This work')
  ];
  const ys=[425,440.7,456.7,472.7,488,504,519,534,550,565.7];
  rows.forEach((m,i)=>{
    el(g,'rect',{x:972,y:ys[i]-5,width:10,height:10,fill:colors[i][0],'fill-opacity':.5,stroke:colors[i][1],'stroke-width':1},'legend-swatch-'+radarNames[i].toLowerCase().replace(/[^a-z0-9]+/g,'-'));
    txt(g,989,ys[i]+3.5,m,9.8,'start',i>=7?'#e83038':'#444','legend-entry-'+radarNames[i].toLowerCase().replace(/[^a-z0-9]+/g,'-'));
  });
})();

/* ---- colorbars ---- */
(function(){
  const c=document.getElementById('cbC'), d=document.getElementById('cbD');
  const yc=lin(0,7,560,421.7), yd=lin(0,25,558,423);
  ohColorbarTicks.forEach((t,i)=>{txt(c,48,yc(i)+3,t,7.8,'start','#444','oh-colorbar-tick');});
  hColorbarTicks.forEach((t,i)=>{txt(d,609,yd(i*5)+3,t,7.8,'start','#444','h-colorbar-tick');});
})();

/* ---- spheres ---- */
(function(){
  const g=document.getElementById('spheres');
  for(let r=0;r<6;r++){
    const dx=(5-r)*4, dy=(5-r)*3.3;
    for(let j=0;j<11;j++){
      el(g,'ellipse',{cx:65+j*10.5+dx,cy:127-dy,rx:5.6,ry:r===5?5.6:4.4,fill:'url(#ball)'},'catalyst-sphere');
    }
  }
})();

/* ---- ion arrows ---- */
(function(){
  const g=document.getElementById('ionArrows');
  const RED='#e8383a',GRAY='#8a8a8a',BLUE='#2a48d0',DK='#333';
  function ion(x,yLabel,y1,y2,col,head,label,w,dash){
    if(label) txt(g,x+(label.length>1?.5:0),yLabel,label+sup(col===BLUE?'-':'+',4),6.8,'middle',col,'ion-label');
    if(y1===y2) return;
    const dir=y2>y1?1:-1;
    el(g,'line',{x1:x,x2:x,y1:y1,y2:head?y2-dir*2:y2,stroke:col,'stroke-width':w||.8,'stroke-dasharray':dash||'1.4 .9'},'ion-path');
    if(head){
      el(g,'polygon',{points:x+','+y2+' '+(x-1.8)+','+(y2-dir*3.2)+' '+(x+1.8)+','+(y2-dir*3.2),fill:col},'ion-arrow-head');
    }
  }
  const LR='#f08082';
  /* panel a */
  ion(54.7,45,50,68,LR,false,'H');ion(77.7,39,42,62,LR,false,'H');ion(97.7,43,46,78,GRAY,true,'K');
  ion(127.3,40,43,63,RED,false,'H');ion(160,43,46,78,GRAY,true,'K');ion(179.3,40,43,63,LR,false,'H');
  ion(70.7,74,78,98,LR,false,'H');ion(108.3,74,78,98,LR,false,'H');ion(147.3,74,78,98,LR,false,'H');ion(186,74,78,98,LR,false,'H');
  ion(88.7,95,98,125,RED,false,'H');ion(128.3,95,98,125,RED,false,'H');ion(168.7,95,98,125,RED,false,'H');
  ion(55,108,112,130,RED,false,'H',1);ion(109,108,112,122,LR,false,'H');ion(147.7,108,112,122,LR,false,'H');ion(199,108,112,130,RED,false,'H');
  ion(88.7,125,125,125,RED,false,'H');ion(128.3,125,125,125,RED,false,'H');ion(168.7,125,125,125,RED,false,'H');
  /* panel a closeup */
  ion(310.7,32,35,66,RED,true,'H',1);ion(391.7,32,35,66,RED,true,'H',1);ion(352,38,41,73,GRAY,false,'K');
  ion(296,56,60,89,RED,true,'H',1);ion(405.3,56,60,89,RED,true,'H',1);ion(326,74,78,108,RED,true,'H',1);ion(377.3,74,78,108,RED,true,'H',1);
  ion(325,134,119,109,BLUE,true,'OH',1);ion(377,134,119,109,BLUE,true,'OH',1);
  /* panel b */
  ion(51.5,222,227,243,LR,false,'H');ion(104,213,216,235,GRAY,false,'K');ion(160.5,213,216,235,GRAY,false,'K');
  ion(209,221,226,243,LR,false,'H');ion(40,283,288,306,RED,false,'H');ion(209,277,282,299,RED,false,'H');
  ion(86,237,242,276,RED,false,'H',1);ion(137.5,238,243,278,RED,false,'H',1);ion(173,238,243,276,RED,false,'H',1);
  /* panel b closeup */
  ion(300.7,224,215,197,BLUE,true,'OH');ion(402,224,215,197,BLUE,true,'OH');
  ion(318.7,213,217,235,RED,true,'H',1);ion(352,207,211,229,RED,true,'H',1);ion(385,213,217,235,RED,true,'H',1);
  ion(318.7,261,254,236,BLUE,true,'OH',1);ion(352,255,248,230,BLUE,true,'OH',1);ion(385,261,254,236,BLUE,true,'OH',1);
  ion(352,280,284,300,DK,true,'K');
  txt(g,350.5,323,'OH',6.8,'middle',BLUE,'cavity-bottom-oh-label');
  el(g,'line',{x1:343,y1:314,x2:319,y2:266,stroke:BLUE,'stroke-width':.9,'stroke-dasharray':'1.4 .9'},'cavity-left-oh-path');
  el(g,'line',{x1:358,y1:314,x2:384,y2:266,stroke:BLUE,'stroke-width':.9,'stroke-dasharray':'1.4 .9'},'cavity-right-oh-path');
  el(g,'polygon',{points:'318,263 321,266 317.5,268',fill:BLUE},'cavity-left-oh-head');
  el(g,'polygon',{points:'385,263 382,266 385.5,268',fill:BLUE},'cavity-right-oh-head');
})();

/* ---- map overlays ---- */
(function(){
  const g=document.getElementById('maps');
  function streams(x0,y0,xs,ys,dirUp,name,w,bend){
    xs.forEach((fx,i)=>{
      const x=x0+fx*109.7;
      const tip=bend?y0+88:y0+110;
      let d='M'+x+','+y0+' L'+x+','+tip;
      if(bend){d+=' Q'+x+','+(y0+104)+' '+(x+(i%2?-6:6))+','+(y0+109);}
      el(g,'path',{d:d,fill:'none',stroke:'#111','stroke-width':w||.3,'stroke-opacity':.42},name+'-streamline');
      ys.forEach((fy,j)=>{
        const y=y0+(fy+((i*7+j*3)%5-2)*.012)*110;
        const s=dirUp?-1:1;
        el(g,'polygon',{points:x+','+(y+s*1.4)+' '+(x-1.2)+','+(y-s*1)+' '+(x+1.2)+','+(y-s*1),fill:'#0a0a0a'},name+'-flow-arrow');
      });
    });
  }
  function vee(x,yTop,yBot,wide,name,sw){
    el(g,'line',{x1:x-wide,y1:yTop,x2:x-1.5,y2:yBot,stroke:'#fff','stroke-width':sw||2.2},name+'-wall');
    el(g,'line',{x1:x+wide,y1:yTop,x2:x+1.5,y2:yBot,stroke:'#fff','stroke-width':sw||2.2},name+'-wall');
  }
  function dots(x0,y,n,step,name){
    for(let i=0;i<n;i++) el(g,'circle',{cx:x0+i*step,cy:y,r:1.9,fill:'#fff'},name+'-particle-dot');
  }
  /* c */
  streams(66,374,[.06,.09,.13,.2,.27,.34,.39,.44,.57,.62,.76,.89,.94],[.2,.55,.85],true,'oh-particle');
  dots(72.5,481.5,12,8.82,'oh-map');
  streams(185.3,374,[.09,.15,.19,.26,.32,.44,.5,.58,.68,.76,.82,.93],[.05,.38,.65,.88],true,'oh-cavity-1',.3,true);
  [200,241,277].forEach(x=>{vee(x,473,484,6,'oh-cavity-1-vee');el(g,'circle',{cx:x,cy:481.5,r:1.8,fill:'#fff'},'oh-cavity-1-dot');});
  streams(66,493.3,[.04,.1,.14,.24,.34,.46,.5,.58,.65,.7,.82,.9,.99],[.18,.46,.68],true,'oh-cavity-2',.3,true);
  [84,120,158].forEach(x=>vee(x,582,603,6,'oh-cavity-2-vee',2.2));
  streams(185.3,493.3,[.01,.06,.13,.19,.25,.33,.38,.5,.57,.66,.75,.88,.92,.99],[.15,.4,.58],true,'oh-cavity-3',.3,true);
  [204,239,275].forEach(x=>vee(x,565,603,8,'oh-cavity-3-vee',2.4));
  /* d */
  streams(360,374,[.03,.13,.25,.38,.5,.62,.75,.88,.98],[.42,.58,.72,.8,.86,.92],false,'h-particle',.4);
  dots(366,481.5,12,8.95,'h-map');
  streams(479.3,374,[.13,.25,.35,.5,.64,.75,.87],[.24,.42,.56,.68,.78,.87],false,'h-cavity-1',.4,true);
  [494,536,572].forEach(x=>{vee(x,473,484,6,'h-cavity-1-vee');el(g,'circle',{cx:x,cy:481.5,r:1.8,fill:'#fff'},'h-cavity-1-dot');});
  streams(360,493.3,[.02,.15,.27,.31,.36,.5,.64,.69,.74,.86,.99],[.34,.55,.7,.82],false,'h-cavity-2',.3,true);
  [377,415,451].forEach(x=>vee(x,581,603,6,'h-cavity-2-vee',2.2));
  streams(479.3,493.3,[.01,.05,.1,.18,.25,.33,.42,.5,.62,.72,.83,.88,.95,.99],[.34,.52,.66,.8],false,'h-cavity-3',.3,true);
  [498,534,570].forEach(x=>vee(x,565,603,8,'h-cavity-3-vee',2.4));
  el(g,'path',{d:'M481,484 Q483,474 489,471',fill:'none',stroke:'#0a0a0a','stroke-width':1.2},'h-cavity-1-corner-stream-left');
  el(g,'path',{d:'M587,484 Q585,474 579,471',fill:'none',stroke:'#0a0a0a','stroke-width':1.2},'h-cavity-1-corner-stream-right');
  el(g,'path',{d:'M361,583 Q362,601 374,603',fill:'none',stroke:'#0a0a0a','stroke-width':.9,'stroke-dasharray':'1.5 1'},'h-cavity-2-corner-stream');
  el(g,'path',{d:'M480,585 Q482,600 496,601',fill:'none',stroke:'#0a0a0a','stroke-width':.9,'stroke-dasharray':'1.5 1'},'h-cavity-3-corner-stream-left');
  el(g,'path',{d:'M587,585 Q585,600 572,601',fill:'none',stroke:'#0a0a0a','stroke-width':.9,'stroke-dasharray':'1.5 1'},'h-cavity-3-corner-stream-right');
})();
</script>
</body>
</html>
